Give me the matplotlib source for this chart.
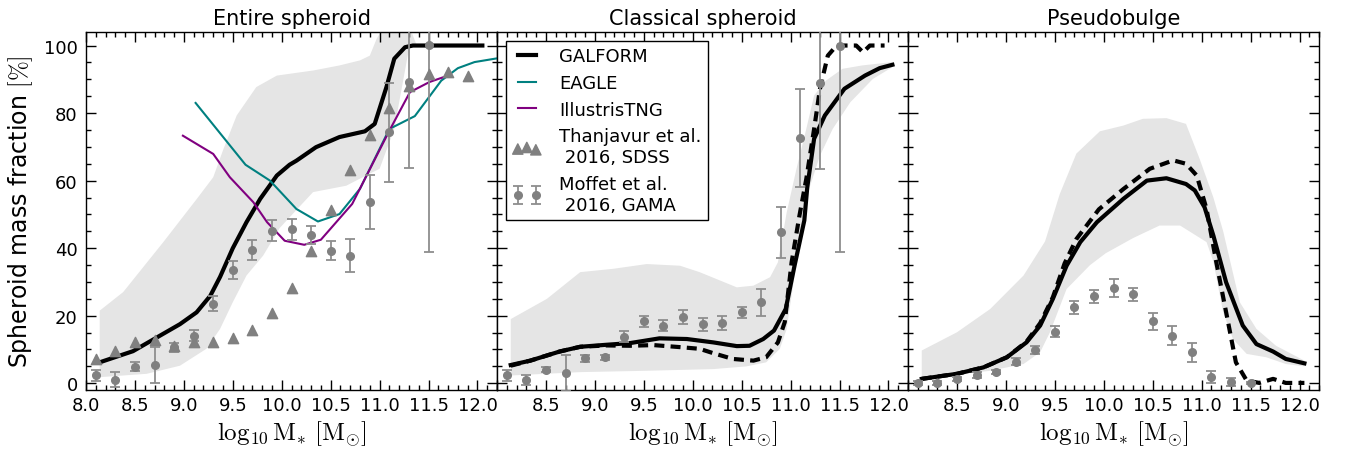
import numpy as np
import matplotlib
matplotlib.use('Agg')
import matplotlib.pyplot as plt
from matplotlib.ticker import MultipleLocator

# ---------------- data ----------------
panel_titles = ['Entire spheroid', 'Classical spheroid', 'Pseudobulge']
xtick_vals = [8.0, 8.5, 9.0, 9.5, 10.0, 10.5, 11.0, 11.5, 12.0]
xtick_labels_first = ['8.0', '8.5', '9.0', '9.5', '10.0', '10.5', '11.0', '11.5', '12.0']
xtick_labels_other = ['', '8.5', '9.0', '9.5', '10.0', '10.5', '11.0', '11.5', '12.0']
ytick_vals = [0, 20, 40, 60, 80, 100]

# Panel 1: entire spheroid
p1_gal_x = [8.14, 8.48, 8.69, 8.96, 9.13, 9.27, 9.37, 9.50, 9.64, 9.78, 9.95, 10.08, 10.15,
            10.35, 10.59, 10.85, 10.95, 11.07, 11.15, 11.26, 11.34, 12.05]
p1_gal_y = [6.2, 9.5, 13.0, 17.5, 21.0, 25.9, 31.5, 40.0, 47.7, 54.6, 61.5, 64.7, 65.9,
            69.9, 72.9, 74.6, 76.8, 87.7, 96.1, 99.5, 100.0, 100.0]
p1_band_up_x = [8.14, 8.38, 8.79, 9.13, 9.30, 9.40, 9.54, 9.74, 9.95, 10.32, 10.59, 10.80,
                10.90, 10.97, 11.05, 11.30, 11.38, 12.05]
p1_band_up_y = [21.5, 27.0, 41.8, 54.5, 61.0, 69.0, 79.3, 87.7, 91.1, 92.6, 94.1, 95.6,
                97.0, 102.0, 106.0, 106.0, 100.0, 100.0]
p1_band_lo_x = [8.14, 8.62, 8.96, 9.23, 9.37, 9.50, 9.64, 9.81, 9.98, 10.32, 10.66, 10.86,
                11.00, 11.15, 11.30, 11.38, 12.05]
p1_band_lo_y = [1.8, 2.8, 5.2, 10.2, 16.1, 24.0, 31.9, 37.8, 46.0, 56.6, 58.5, 61.5,
                63.5, 75.3, 99.0, 100.0, 100.0]
eagle_x = [9.12, 9.63, 9.88, 10.15, 10.37, 10.59, 10.80, 11.10, 11.36, 11.63, 11.80, 11.97, 12.22]
eagle_y = [83.0, 64.7, 60.0, 51.6, 47.9, 50.1, 57.6, 75.3, 79.1, 89.6, 93.3, 95.1, 96.3]
tng_x = [8.99, 9.30, 9.47, 9.71, 9.85, 10.03, 10.23, 10.40, 10.72, 11.10, 11.31, 11.51, 11.70]
tng_y = [73.3, 67.9, 61.0, 53.6, 47.7, 42.2, 41.0, 42.5, 53.1, 74.8, 86.2, 89.2, 91.1]
thanj_x = [8.1, 8.3, 8.5, 8.7, 8.9, 9.1, 9.3, 9.5, 9.7, 9.9, 10.1, 10.3, 10.5, 10.7,
           10.9, 11.1, 11.3, 11.5, 11.7, 11.9]
thanj_y = [7.2, 9.7, 12.3, 12.9, 10.9, 12.1, 12.1, 13.3, 15.9, 20.8, 28.1, 39.1, 51.4, 63.2,
           73.5, 81.5, 88.0, 91.6, 92.1, 91.1]
moff_x = [8.1, 8.3, 8.5, 8.7, 8.9, 9.1, 9.3, 9.5, 9.7, 9.9, 10.1, 10.3, 10.5, 10.7,
          10.9, 11.1, 11.3, 11.5]
p1_moff_y = [2.3, 1.1, 4.9, 5.4, 10.7, 14.1, 23.5, 33.6, 39.5, 45.2, 45.6, 43.9, 39.3, 37.8,
             53.8, 74.3, 89.2, 100.2]
p1_moff_e = [1.5, 2.1, 1.4, 5.3, 1.3, 1.6, 2.2, 2.6, 3.0, 3.0, 3.1, 2.7, 2.8, 4.8,
             8.0, 14.7, 25.5, 61.2]

# Panel 2: classical spheroid
p2_gal_x = [8.14, 8.34, 8.64, 8.85, 9.12, 9.36, 9.66, 9.94, 10.21, 10.45, 10.58, 10.72, 10.83,
            10.95, 11.04, 11.14, 11.17, 11.24, 11.35, 11.55, 11.76, 11.91, 12.04]
p2_gal_y = [5.4, 6.7, 9.4, 10.8, 11.4, 11.9, 13.3, 13.1, 12.1, 11.0, 11.1, 13.1, 15.6,
            22.0, 34.8, 48.2, 58.0, 72.4, 79.3, 87.2, 91.1, 93.3, 94.3]
p2_dash_x = [8.14, 8.34, 8.64, 8.85, 9.12, 9.36, 9.60, 9.87, 10.07, 10.21, 10.41, 10.62, 10.75,
             10.87, 10.94, 11.01, 11.09, 11.16, 11.24, 11.30, 11.38, 11.47, 11.67, 11.74,
             11.81, 11.96]
p2_dash_y = [5.2, 6.7, 9.4, 10.8, 11.2, 11.1, 11.3, 10.7, 10.2, 8.9, 7.2, 6.7, 7.7,
             12.1, 18.1, 35.8, 49.6, 60.5, 75.3, 87.2, 97.0, 100.0, 100.0, 98.0, 100.0, 100.0]
p2_band_up_x = [8.14, 8.51, 8.85, 9.19, 9.53, 9.87, 10.07, 10.45, 10.62, 10.79, 10.87, 10.96,
                11.06, 11.16, 11.24, 11.36, 11.53, 11.73, 12.04]
p2_band_up_y = [19.0, 25.0, 32.9, 33.9, 35.3, 34.8, 32.9, 28.4, 28.9, 31.4, 35.8, 50.6,
                63.5, 75.3, 85.2, 89.6, 93.1, 94.1, 95.1]
p2_band_lo_x = [8.14, 8.85, 9.53, 10.21, 10.55, 10.75, 10.89, 10.96, 11.03, 11.09, 11.19,
                11.30, 11.43, 11.61, 11.84, 12.04]
p2_band_lo_y = [2.3, 3.3, 3.7, 4.2, 5.0, 6.2, 10.2, 16.1, 29.9, 43.7, 57.6,
                67.4, 75.3, 83.2, 90.1, 93.6]
p2_moff_y = [2.3, 1.0, 4.0, 3.0, 7.4, 7.7, 13.8, 18.3, 17.1, 19.7, 17.4, 17.8, 21.0, 24.0,
             44.7, 72.7, 89.0, 100.0]
p2_moff_e = [1.5, 1.5, 0.7, 5.3, 1.0, 0.8, 1.6, 1.6, 1.7, 2.1, 1.8, 2.1, 1.7, 4.0,
             7.6, 14.5, 25.6, 61.0]

# Panel 3: pseudobulge
p3_gal_x = [8.14, 8.50, 8.77, 9.01, 9.21, 9.35, 9.48, 9.62, 9.76, 9.93, 10.20, 10.44, 10.64,
            10.84, 10.93, 11.03, 11.12, 11.25, 11.42, 11.56, 11.73, 11.86, 12.05]
p3_gal_y = [1.3, 2.8, 4.7, 7.7, 12.1, 17.1, 25.0, 34.8, 41.8, 47.7, 54.6, 60.0, 60.7,
            59.0, 57.1, 52.1, 43.7, 29.9, 17.1, 11.6, 9.4, 7.2, 5.9]
p3_dash_x = [8.14, 8.50, 8.77, 9.01, 9.21, 9.35, 9.48, 9.60, 9.72, 9.95, 10.20, 10.47, 10.71,
             10.84, 10.95, 11.05, 11.15, 11.27, 11.35, 11.46, 11.59, 11.73, 11.86, 12.05]
p3_dash_y = [1.3, 2.8, 4.7, 7.7, 12.3, 17.8, 25.5, 35.5, 42.7, 51.5, 57.5, 63.5, 66.0,
             65.0, 61.5, 51.6, 35.8, 18.1, 6.2, 0.8, 0.1, 1.3, 0.1, 0.1]
p3_band_up_x = [8.14, 8.50, 8.84, 9.18, 9.40, 9.55, 9.72, 9.96, 10.20, 10.40, 10.64, 10.84,
                10.98, 11.12, 11.22, 11.39, 11.56, 11.76, 12.05]
p3_band_up_y = [9.7, 15.1, 22.0, 31.9, 42.0, 56.0, 68.0, 74.6, 76.3, 78.3, 78.5, 76.8,
                66.4, 55.0, 45.0, 24.0, 16.1, 11.1, 6.7]
p3_band_lo_x = [8.14, 8.84, 9.18, 9.35, 9.45, 9.62, 9.86, 10.02, 10.30, 10.57, 10.78, 11.05,
                11.12, 11.22, 11.32, 11.46, 11.66, 11.86, 12.05]
p3_band_lo_y = [1.3, 3.7, 5.7, 9.2, 15.1, 27.9, 35.0, 38.5, 43.0, 46.7, 46.7, 41.8,
                36.0, 21.0, 13.1, 8.7, 7.7, 5.7, 5.0]
p3_moff_y = [0.1, 0.1, 1.3, 2.5, 3.3, 6.4, 9.9, 15.3, 22.5, 25.7, 28.2, 26.3, 18.3, 14.1,
             9.2, 1.8, 0.4, 0.2]
p3_moff_e = [0.5, 0.5, 0.6, 0.8, 0.7, 1.0, 1.2, 1.6, 2.0, 1.8, 2.6, 1.8, 2.4, 2.9,
             2.8, 1.8, 1.2, 0.3]

# ---------------- style ----------------
plt.rcParams.update({
    'font.family': 'DejaVu Sans',
    'mathtext.fontset': 'cm',
    'xtick.direction': 'in', 'ytick.direction': 'in',
    'xtick.top': True, 'ytick.right': True,
    'xtick.major.size': 7, 'ytick.major.size': 7,
    'xtick.minor.size': 3.5, 'ytick.minor.size': 3.5,
    'xtick.major.width': 1.0, 'ytick.major.width': 1.0,
    'xtick.minor.width': 1.0, 'ytick.minor.width': 1.0,
    'xtick.major.pad': 4, 'ytick.major.pad': 6,
    'axes.linewidth': 1.0,
    'xtick.labelsize': 13, 'ytick.labelsize': 13,
})

band_color = '#e5e5e5'
grey = '#808080'
ecol = '#8e8e8e'
dash = (0, (2.4, 1.5))

fig, axes = plt.subplots(1, 3, figsize=(13.46, 4.56), dpi=100, sharey=True)
fig.subplots_adjust(left=0.0639, right=0.980, top=0.9276, bottom=0.1425, wspace=0)

def band(ax, xu, yu, xl, yl):
    px = list(xu) + list(xl)[::-1]
    py = list(yu) + list(yl)[::-1]
    ax.fill(px, py, color=band_color, lw=0, zorder=0)

def moff(ax, y, e, label=None):
    ax.errorbar(moff_x, y, yerr=e, fmt='o', color=grey, ms=5.5, mec=grey,
                ecolor=ecol, elinewidth=1.3, capsize=3.5, capthick=1.3, zorder=4,
                label=label)

# panel 1
ax = axes[0]
band(ax, p1_band_up_x, p1_band_up_y, p1_band_lo_x, p1_band_lo_y)
ax.plot(p1_gal_x, p1_gal_y, color='black', lw=3, zorder=3, label='GALFORM')
ax.plot(eagle_x, eagle_y, color='teal', lw=1.5, zorder=3, label='EAGLE')
ax.plot(tng_x, tng_y, color='purple', lw=1.5, zorder=3, label='IllustrisTNG')
ax.scatter(thanj_x, thanj_y, marker='^', s=55, c=grey, edgecolors=grey, zorder=5,
           label='Thanjavur et al.\n 2016, SDSS')
moff(ax, p1_moff_y, p1_moff_e, label='Moffet et al.\n 2016, GAMA')

# panel 2
ax = axes[1]
band(ax, p2_band_up_x, p2_band_up_y, p2_band_lo_x, p2_band_lo_y)
ax.plot(p2_gal_x, p2_gal_y, color='black', lw=3, zorder=3)
ax.plot(p2_dash_x, p2_dash_y, color='black', lw=3, ls=dash, zorder=3)
moff(ax, p2_moff_y, p2_moff_e)

# panel 3
ax = axes[2]
band(ax, p3_band_up_x, p3_band_up_y, p3_band_lo_x, p3_band_lo_y)
ax.plot(p3_gal_x, p3_gal_y, color='black', lw=3, zorder=3)
ax.plot(p3_dash_x, p3_dash_y, color='black', lw=3, ls=dash, zorder=3)
moff(ax, p3_moff_y, p3_moff_e)

for i, ax in enumerate(axes):
    ax.set_xlim(8.0, 12.2)
    ax.set_ylim(-2, 104)
    ax.set_xticks(xtick_vals)
    ax.set_xticklabels(xtick_labels_first if i == 0 else xtick_labels_other)
    ax.set_yticks(ytick_vals)
    ax.xaxis.set_minor_locator(MultipleLocator(0.1))
    ax.yaxis.set_minor_locator(MultipleLocator(5))
    ax.tick_params(which='both', top=True, right=True)
    ax.set_title(panel_titles[i], fontsize=15)
    ax.set_xlabel(r'$\log_{10}\mathrm{M}_{*}\ [\mathrm{M}_{\odot}]$', fontsize=18, labelpad=4)
    if i > 0:
        ax.tick_params(labelleft=False)

axes[0].set_ylabel(r'Spheroid mass fraction $[\%]$', fontsize=17, labelpad=6)

h, l = axes[0].get_legend_handles_labels()
leg = axes[1].legend(h, l, loc='upper left', fontsize=13, frameon=True, fancybox=False,
                     edgecolor='black', framealpha=1, scatterpoints=3, numpoints=2,
                     scatteryoffsets=[0.375, 0.5, 0.3125],
                     handlelength=1.6, handletextpad=1.0, labelspacing=0.48,
                     borderpad=0.35, borderaxespad=0.5)
leg.get_frame().set_linewidth(1.0)
leg.set_zorder(10)

fig.savefig('out.png', dpi=100)
